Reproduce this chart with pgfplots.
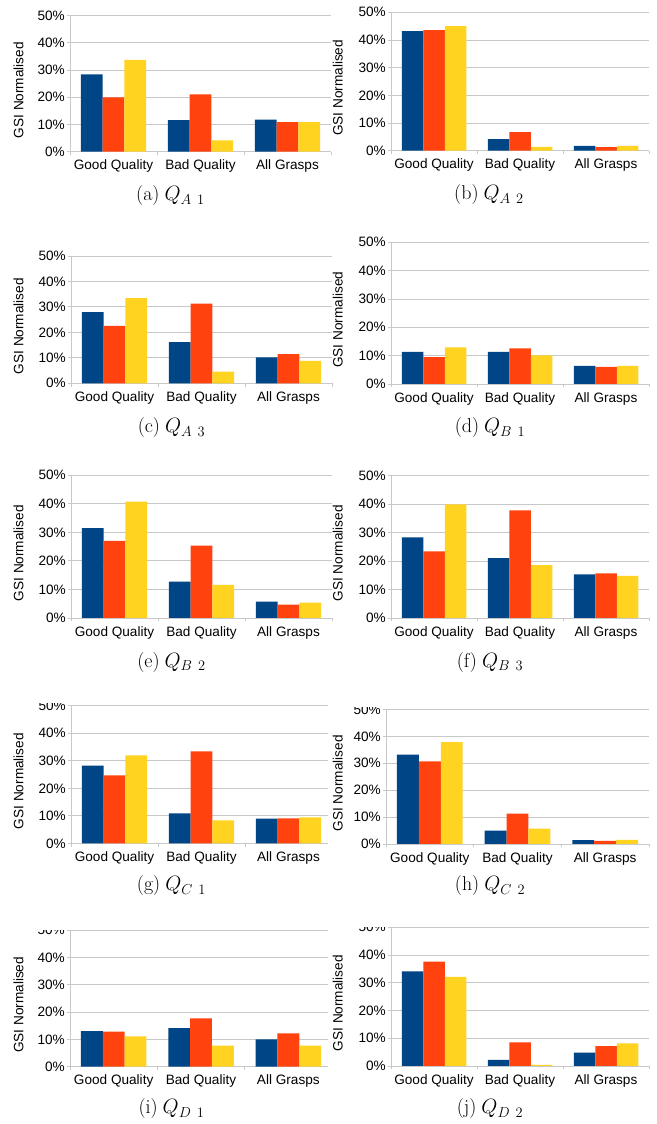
\documentclass[border=0pt]{standalone}
\usepackage{pgfplots}
\pgfplotsset{compat=1.18}
\usepackage{fontspec}
\newfontfamily\lib{Liberation Sans}

\definecolor{gsiblue}{HTML}{004586}
\definecolor{gsired}{HTML}{FF420E}
\definecolor{gsiyellow}{HTML}{FFD320}
\definecolor{gridgray}{HTML}{C8C8C8}

\newcommand{\tickfont}{\lib\fontsize{13.6}{15}\selectfont}
\newcommand{\capfont}{\fontsize{20}{24}\selectfont}

\pgfplotsset{
  gsi/.style={
    scale only axis, anchor=south west,
    ybar, bar width=0.25,
    ymin=0, ymax=50, xmin=-0.5, xmax=2.5, enlargelimits=false,
    axis lines*=left,
    axis line style={draw=gridgray, line width=0.9pt},
    tick align=outside, major tick length=3.5pt,
    tick style={draw=gridgray, line width=0.9pt},
    xtick={-0.5,0.5,1.5,2.5}, xticklabels={},
    extra x ticks={0,1,2},
    extra x tick labels={Good Quality,Bad Quality,All Grasps},
    extra x tick style={major tick length=0pt,
      xticklabel style={anchor=north, inner sep=0pt, yshift=-8pt}},
    ytick={0,10,20,30,40,50},
    yticklabels={0\%,10\%,20\%,30\%,40\%,50\%},
    yticklabel style={anchor=east, inner sep=0pt, xshift=-1.5pt},
    ymajorgrids, grid style={draw=gridgray, line width=0.9pt},
    tick label style={font=\tickfont, text=black},
  }
}

% one chart: left, bottom, width, height, then the three series
\newcommand{\gsipanel}[7]{%
  \begin{axis}[gsi, at={(#1pt,#2pt)}, width=#3pt, height=#4pt]
    \addplot[fill=gsiblue, draw=none, bar shift=-0.25] coordinates {#5};
    \addplot[fill=gsired, draw=none, bar shift=0] coordinates {#6};
    \addplot[fill=gsiyellow, draw=none, bar shift=0.25] coordinates {#7};
  \end{axis}}

\newcommand{\gsiylabel}[2]{%
  \node[rotate=90, font=\tickfont, inner sep=0pt] at (#1pt,#2pt) {GSI Normalised};}

% sub-caption: x, baseline y, letter, subscript letter, subscript digit
\newcommand{\gsicaption}[5]{%
  \node[font=\capfont, anchor=base, inner sep=0pt] at (#1pt,#2pt)
    {(#3)\hspace{5pt}{\fontsize{21}{24}\selectfont$Q_{#4\hspace{6pt}#5}$}};}

\begin{document}
\begin{tikzpicture}
\useasboundingbox (0pt,0pt) rectangle (656pt,1124pt);

% (a) Q_A1
\gsipanel{70}{972.3}{261}{136}
  {(0,28.4) (1,11.6) (2,11.8)}
  {(0,20.0) (1,21.1) (2,10.9)}
  {(0,33.8) (1,4.2) (2,10.9)}
\gsiylabel{18.5}{1033.8}
\gsicaption{170.5}{923}{a}{A}{1}

% (b) Q_A2
\gsipanel{391}{973.3}{258}{138.4}
  {(0,43.2) (1,4.2) (2,1.7)}
  {(0,43.6) (1,6.7) (2,1.3)}
  {(0,45.0) (1,1.4) (2,1.7)}
\gsiylabel{337.7}{1036}
\gsicaption{489}{924}{b}{A}{2}

% (c) Q_A3
\gsipanel{71}{740.7}{261}{127.3}
  {(0,28.0) (1,16.2) (2,10.2)}
  {(0,22.6) (1,31.3) (2,11.5)}
  {(0,33.5) (1,4.6) (2,8.8)}
\gsiylabel{18.5}{797.8}
\gsicaption{171.5}{691}{c}{A}{3}

% (d) Q_B1
\gsipanel{391}{740}{258}{141.7}
  {(0,11.3) (1,11.3) (2,6.4)}
  {(0,9.5) (1,12.6) (2,6.0)}
  {(0,12.9) (1,10.1) (2,6.4)}
\gsiylabel{337.7}{804.3}
\gsicaption{490}{691}{d}{B}{1}

% (e) Q_B2
\gsipanel{71}{506}{261}{142.7}
  {(0,31.5) (1,12.7) (2,5.7)}
  {(0,27.0) (1,25.4) (2,4.7)}
  {(0,40.8) (1,11.6) (2,5.4)}
\gsiylabel{18.5}{570.8}
\gsicaption{171.5}{456.7}{e}{B}{2}

% (f) Q_B3
\gsipanel{391}{506}{258}{142.3}
  {(0,28.3) (1,21.0) (2,15.3)}
  {(0,23.4) (1,37.8) (2,15.7)}
  {(0,39.9) (1,18.6) (2,14.8)}
\gsiylabel{337.7}{570.6}
\gsicaption{490}{456.7}{f}{B}{3}

% (g) Q_C1
\begin{scope}
\clip (0pt,0pt) rectangle (328pt,420pt);
\gsipanel{71}{280.5}{261}{137.8}
  {(0,28.3) (1,10.9) (2,9.0)}
  {(0,24.7) (1,33.4) (2,9.1)}
  {(0,32.0) (1,8.4) (2,9.5)}
\end{scope}
\gsiylabel{18.5}{342.9}
\gsicaption{171.5}{233}{g}{C}{1}

% (h) Q_C2
\begin{scope}
\clip (328pt,0pt) rectangle (656pt,416.5pt);
\gsipanel{386}{280}{263}{134.5}
  {(0,33.2) (1,5.0) (2,1.4)}
  {(0,30.7) (1,11.3) (2,1.2)}
  {(0,37.9) (1,5.7) (2,1.5)}
\end{scope}
\gsiylabel{337.7}{340.7}
\gsicaption{490}{233}{h}{C}{2}

% (i) Q_D1
\begin{scope}
\clip (0pt,0pt) rectangle (328pt,193pt);
\gsipanel{70}{57.3}{262}{136.7}
  {(0,13.0) (1,14.1) (2,10.0)}
  {(0,12.8) (1,17.7) (2,12.2)}
  {(0,11.1) (1,7.7) (2,7.7)}
\end{scope}
\gsiylabel{18.5}{119.1}
\gsicaption{171.5}{10}{i}{D}{1}

% (j) Q_D2
\begin{scope}
\clip (328pt,0pt) rectangle (656pt,196pt);
\gsipanel{391}{58}{258}{138.7}
  {(0,34.1) (1,2.2) (2,4.8)}
  {(0,37.6) (1,8.5) (2,7.2)}
  {(0,32.1) (1,0.4) (2,8.2)}
\end{scope}
\gsiylabel{337.7}{120.8}
\gsicaption{490}{10}{j}{D}{2}

\end{tikzpicture}
\end{document}
